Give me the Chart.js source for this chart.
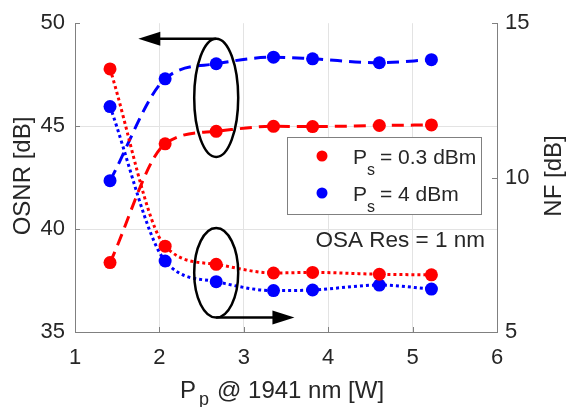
<!DOCTYPE html>
<html>
<head>
<meta charset="utf-8">
<script src="https://cdn.jsdelivr.net/npm/chart.js@4"></script>
<style>
  html, body { margin: 0; padding: 0; background: #fff; }
  #wrap { width: 567px; height: 407px; position: relative; }
</style>
</head>
<body>
<div id="wrap"><canvas id="chart"></canvas></div>
<script>
// pump power [W]
const pumpPower = [1.415, 2.068, 2.673, 3.352, 3.815, 4.606, 5.223];
// OSNR [dB], dashed, left axis
const osnrLow = [38.37, 44.14, 44.75, 44.99, 44.98, 45.03, 45.06];
const osnrHigh = [42.35, 47.30, 48.03, 48.35, 48.27, 48.08, 48.23];
// NF [dB], dotted, right axis
const nfLow = [13.52, 7.78, 7.19, 6.91, 6.93, 6.87, 6.85];
const nfHigh = [12.30, 7.30, 6.63, 6.34, 6.36, 6.52, 6.39];

const xTicks = [1, 2, 3, 4, 5, 6];
const osnrTicks = [35, 40, 45, 50];
const nfTicks = [5, 10, 15];

const RED = '#ff0000';
const BLUE = '#0000ff';
const FONT = '"Liberation Sans", Arial, sans-serif';
const TXT = '#262626';

function pts(ys) {
  return pumpPower.map((x, i) => ({x: x, y: ys[i]}));
}

function series(ys, color, axis, dash) {
  return {
    data: pts(ys),
    yAxisID: axis,
    borderColor: color,
    backgroundColor: color,
    borderWidth: 3,
    borderDash: dash,
    pointRadius: 6.5,
    pointHoverRadius: 6.5,
    pointBorderWidth: 0,
    cubicInterpolationMode: 'monotone',
    fill: false
  };
}

// ellipses, arrows, legend box, titles and inward ticks
const extras = {
  id: 'extras',
  afterDraw(chart) {
    const c = chart.ctx;
    const xs = chart.scales.x, yl = chart.scales.y, yr = chart.scales.y1;
    const a = chart.chartArea;
    c.save();

    // inward tick marks
    c.strokeStyle = '#808080';
    c.lineWidth = 1;
    c.beginPath();
    xTicks.forEach(v => {
      const px = Math.round(xs.getPixelForValue(v)) + 0.5;
      c.moveTo(px, a.bottom); c.lineTo(px, a.bottom - 5);
    });
    osnrTicks.forEach(v => {
      const py = Math.round(yl.getPixelForValue(v)) + 0.5;
      c.moveTo(a.left, py); c.lineTo(a.left + 5, py);
    });
    nfTicks.forEach(v => {
      const py = Math.round(yr.getPixelForValue(v)) + 0.5;
      c.moveTo(a.right, py); c.lineTo(a.right - 5, py);
    });
    c.stroke();

    // ellipses + arrows
    c.strokeStyle = '#000';
    c.fillStyle = '#000';
    c.lineWidth = 2.5;
    const ex = xs.getPixelForValue(2.673);
    const ellipse = (top, bot) => {
      const t = yl.getPixelForValue(top), b = yl.getPixelForValue(bot);
      c.beginPath();
      c.ellipse(ex, (t + b) / 2, 22, (b - t) / 2, 0, 0, Math.PI * 2);
      c.stroke();
      return [t, b];
    };
    const arrow = (x0, x1, y) => {
      const dir = Math.sign(x1 - x0);
      c.beginPath();
      c.moveTo(x0, y); c.lineTo(x1 - dir * 18, y);
      c.stroke();
      c.beginPath();
      c.moveTo(x1, y);
      c.lineTo(x1 - dir * 22, y - 7);
      c.lineTo(x1 - dir * 22, y + 7);
      c.closePath();
      c.fill();
    };
    const e1 = ellipse(49.25, 43.5);
    arrow(ex, xs.getPixelForValue(1.75), e1[0]);
    const e2 = ellipse(40.05, 35.7);
    arrow(ex, xs.getPixelForValue(3.6), e2[1]);

    // legend box
    const lx = 287, ly = 137, lw = 194, lh = 77;
    c.fillStyle = '#fff';
    c.fillRect(lx, ly, lw, lh);
    c.strokeStyle = '#808080';
    c.lineWidth = 1;
    c.strokeRect(lx + 0.5, ly + 0.5, lw, lh);
    const entries = [[RED, '0.3'], [BLUE, '4']];
    entries.forEach((en, i) => {
      const y = ly + 19 + i * 37;
      c.fillStyle = en[0];
      c.beginPath(); c.arc(lx + 35, y, 5.5, 0, Math.PI * 2); c.fill();
      c.fillStyle = TXT;
      c.textBaseline = 'alphabetic';
      c.textAlign = 'left';
      c.font = '21px ' + FONT;
      c.fillText('P', lx + 66, y + 8);
      c.font = '16px ' + FONT;
      c.fillText('s', lx + 80, y + 19);
      c.font = '21px ' + FONT;
      c.fillText('= ' + en[1] + ' dBm', lx + 93, y + 8);
    });

    // OSA resolution note
    c.fillStyle = TXT;
    c.font = '22.5px ' + FONT;
    c.textAlign = 'right';
    c.textBaseline = 'middle';
    c.fillText('OSA Res = 1 nm', 485, 241);

    // axis titles
    c.font = '24px ' + FONT;
    c.textAlign = 'center';
    c.save();
    c.translate(23, 176);
    c.rotate(-Math.PI / 2);
    c.fillText('OSNR [dB]', 0, 0);
    c.restore();
    c.save();
    c.translate(554, 176);
    c.rotate(-Math.PI / 2);
    c.fillText('NF [dB]', 0, 0);
    c.restore();

    // x title with subscript
    c.textAlign = 'left';
    c.textBaseline = 'alphabetic';
    c.font = '24px ' + FONT;
    c.fillText('P', 180, 398);
    c.font = '18px ' + FONT;
    c.fillText('p', 199, 405);
    c.font = '24px ' + FONT;
    c.fillText('@ 1941 nm [W]', 217, 398);

    c.restore();
  }
};

function gridColor(ctx, lo, hi) {
  const v = ctx.tick ? ctx.tick.value : null;
  if (v === lo || v === hi) return 'rgba(0,0,0,0)';
  return '#e3e3e3';
}

const tickFont = { family: FONT, size: 22 };

new Chart(document.getElementById('chart'), {
  type: 'line',
  data: {
    datasets: [
      series(nfLow, RED, 'y1', [3, 3]),
      series(nfHigh, BLUE, 'y1', [3, 3]),
      series(osnrLow, RED, 'y', [12, 7]),
      series(osnrHigh, BLUE, 'y', [12, 7])
    ]
  },
  options: {
    responsive: true,
    maintainAspectRatio: false,
    animation: false,
    layout: { padding: { top: 20, left: 0, right: 0, bottom: 0 } },
    plugins: { legend: { display: false }, tooltip: { enabled: false } },
    scales: {
      x: {
        type: 'linear', min: 1, max: 6,
        afterBuildTicks: s => { s.ticks = xTicks.map(v => ({value: v})); },
        afterFit: s => { s.height = 75; },
        grid: { color: c => gridColor(c, 1, 6), lineWidth: 1, tickLength: 0 },
        border: { color: '#808080', width: 1 },
        ticks: { color: TXT, font: tickFont, padding: 13, maxRotation: 0 }
      },
      y: {
        position: 'left', min: 35, max: 50,
        afterBuildTicks: s => { s.ticks = osnrTicks.map(v => ({value: v})); },
        afterFit: s => { s.width = 75; },
        grid: { color: c => gridColor(c, 35, 50), lineWidth: 1, tickLength: 0 },
        border: { color: '#808080', width: 1 },
        ticks: { color: TXT, font: tickFont, padding: 10 }
      },
      y1: {
        position: 'right', min: 5, max: 15,
        afterBuildTicks: s => { s.ticks = nfTicks.map(v => ({value: v})); },
        afterFit: s => { s.width = 70; },
        grid: { drawOnChartArea: false, tickLength: 0 },
        border: { color: '#808080', width: 1 },
        ticks: { color: TXT, font: tickFont, padding: 8 }
      }
    }
  },
  plugins: [extras]
});
</script>
</body>
</html>
